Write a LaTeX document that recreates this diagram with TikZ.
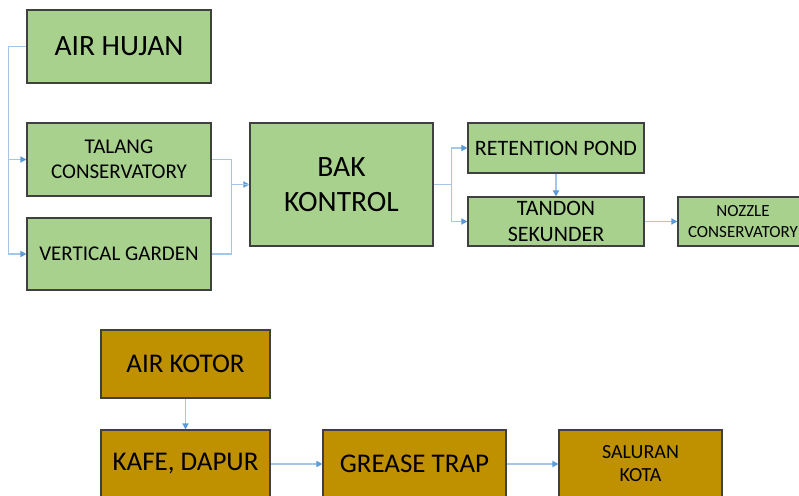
\documentclass[tikz,border=0pt]{standalone}
\usepackage{fontspec}
\setmainfont{Carlito}
\usetikzlibrary{arrows.meta}
\definecolor{boxgreen}{HTML}{A9D18E}
\definecolor{boxbrown}{HTML}{BF9000}
\definecolor{boxline}{HTML}{404040}
\definecolor{lineblue}{HTML}{A4C6E8}
\definecolor{tipblue}{HTML}{5B9BD5}
\tikzset{
  gbox/.style={draw=boxline, line width=1.1pt, fill=boxgreen, inner sep=0pt, align=center, text=black},
  bbox/.style={draw=boxline, line width=1.1pt, fill=boxbrown, inner sep=0pt, align=center, text=black},
  conn/.style={draw=lineblue, line width=1.4pt, -{Triangle[length=6pt,width=6pt,color=tipblue]}},
  link/.style={draw=lineblue, line width=1.4pt}
}
\begin{document}
\begin{tikzpicture}[x=1pt,y=-1pt]
\useasboundingbox (0,0) rectangle (799,495);
\fill[white] (0,0) rectangle (799,495);
\clip (0,0) rectangle (799,495);
% green boxes
\node[gbox, minimum width=184pt, minimum height=73pt, font=\fontsize{29.5}{35}\selectfont] (ah) at (119,46.5) {AIR HUJAN};
\node[gbox, minimum width=184pt, minimum height=73pt, font=\fontsize{21}{25}\selectfont] (tal) at (119,159.5) {TALANG\\CONSERVATORY};
\node[gbox, minimum width=184pt, minimum height=72pt, font=\fontsize{21}{25}\selectfont] (vg) at (119,254) {VERTICAL GARDEN};
\node[gbox, minimum width=183pt, minimum height=123pt, font=\fontsize{29.5}{35}\selectfont] (bak) at (341.5,184.5) {BAK\\KONTROL};
\node[gbox, minimum width=176pt, minimum height=50pt, font=\fontsize{22}{26}\selectfont] (rp) at (556,148) {RETENTION POND};
\node[gbox, minimum width=176pt, minimum height=49pt, font=\fontsize{22}{26}\selectfont] (ts) at (556,221.5) {TANDON\\SEKUNDER};
\node[gbox, minimum width=130pt, minimum height=49pt, font=\fontsize{17}{21}\selectfont] (noz) at (743,221.5) {NOZZLE\\CONSERVATORY};
% brown boxes
\node[bbox, minimum width=169pt, minimum height=68pt, font=\fontsize{27}{32}\selectfont] (ak) at (185.5,364) {AIR KOTOR};
\node[bbox, minimum width=169pt, minimum height=68pt, font=\fontsize{27}{32}\selectfont] (kd) at (185.5,464) {KAFE, DAPUR};
\node[bbox, minimum width=183pt, minimum height=68pt, font=\fontsize{27}{32}\selectfont] (gt) at (414.5,464) {GREASE TRAP};
\node[bbox, minimum width=163pt, minimum height=68pt, font=\fontsize{20}{23}\selectfont] (sk) at (640.5,464) {SALURAN\\KOTA};
% connectors
\draw[conn] (ah.west) -- ++(-18,0) |- (tal.west);
\draw[conn] (ah.west) -- ++(-18,0) |- (vg.west);
\draw[conn] (tal.east) -- ++(20,0) |- (bak.west);
\draw[link] (vg.east) -- ++(20,0) |- (bak.west);
\draw[conn] (bak.east) -- ++(18,0) |- (rp.west);
\draw[conn] (bak.east) -- ++(18,0) |- (ts.west);
\draw[conn] (rp.south) -- (ts.north);
\draw[conn] (ts.east) -- (noz.west);
\draw[conn] (ak.south) -- (kd.north);
\draw[conn] (kd.east) -- (gt.west);
\draw[conn] (gt.east) -- (sk.west);
\end{tikzpicture}
\end{document}
